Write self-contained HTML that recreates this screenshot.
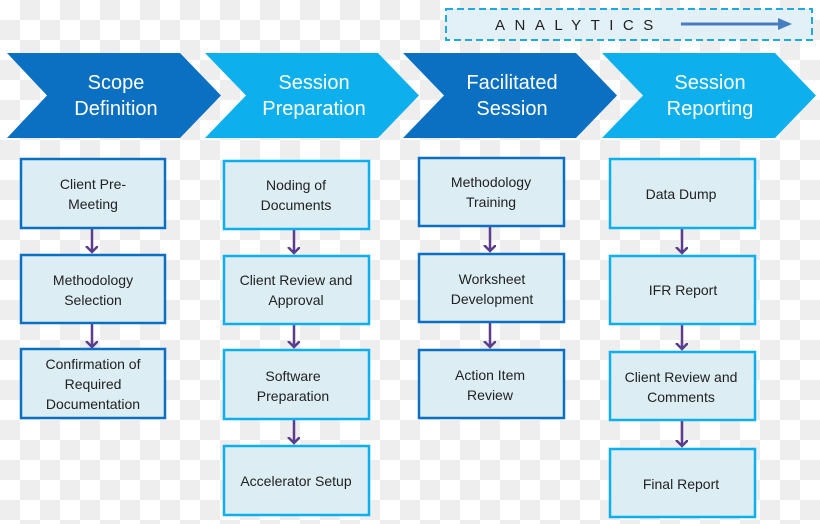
<!DOCTYPE html>
<html><head><meta charset="utf-8"><style>
html,body{margin:0;padding:0;}
body{width:820px;height:519px;overflow:hidden;
background-color:#fff;
background-image:linear-gradient(45deg,#eeeeee 25%,transparent 25%,transparent 75%,#eeeeee 75%),linear-gradient(45deg,#eeeeee 25%,transparent 25%,transparent 75%,#eeeeee 75%);
background-size:40px 40px;background-position:0 0,20px 20px;}
text{font-family:"Liberation Sans",sans-serif;}
</style></head><body>
<svg width="820" height="519" viewBox="0 0 820 519" xmlns="http://www.w3.org/2000/svg">
<defs>
<marker id="ah" markerWidth="14" markerHeight="14" refX="6" refY="6" orient="auto" markerUnits="userSpaceOnUse">
<path d="M0,0 L6,6 L0,12" fill="none" stroke="#5b3d8a" stroke-width="2.5"/></marker>
</defs>
<rect x="446" y="9" width="366" height="31" fill="#e2f1f8" stroke="#1fa9e0" stroke-width="2" stroke-dasharray="7,4"/>
<text x="495" y="30" font-size="15" letter-spacing="9.5" fill="#222">ANALYTICS</text>
<line x1="681" y1="24" x2="780" y2="24" stroke="#4a7cc0" stroke-width="3"/>
<path d="M778,18 L792,24 L778,30 Z" fill="#4a7cc0"/>
<g fill="#fff" font-size="20" text-anchor="middle">
<path d="M7,53 L180,53 L221,95.5 L180,138 L7,138 L47,95.5 Z" fill="#0b70c1"/>
<text x="116" y="89">Scope</text><text x="116" y="115">Definition</text>
<path d="M205,53 L378,53 L419,95.5 L378,138 L205,138 L246,95.5 Z" fill="#0db0ec"/>
<text x="314" y="89">Session</text><text x="314" y="115">Preparation</text>
<path d="M403,53 L576,53 L617,95.5 L576,138 L403,138 L444,95.5 Z" fill="#0b70c1"/>
<text x="512" y="89">Facilitated</text><text x="512" y="115">Session</text>
<path d="M602,53 L775,53 L816,95.5 L775,138 L602,138 L643,95.5 Z" fill="#0db0ec"/>
<text x="710" y="89">Session</text><text x="710" y="115">Reporting</text>
</g>
<g stroke="#5b3d8a" stroke-width="2.5" marker-end="url(#ah)">
<line x1="92" y1="229" x2="92" y2="252"/><line x1="92" y1="324" x2="92" y2="347"/>
<line x1="294" y1="230" x2="294" y2="253"/><line x1="294" y1="325" x2="294" y2="347"/><line x1="294" y1="420" x2="294" y2="443"/>
<line x1="490" y1="227" x2="490" y2="251"/><line x1="490" y1="323" x2="490" y2="347"/>
<line x1="682" y1="229" x2="682" y2="253"/><line x1="682" y1="325" x2="682" y2="349"/><line x1="682" y1="421" x2="682" y2="446"/>
</g>
<g fill="#dcedf4" stroke-width="2.5">
<g stroke="#0b70c1">
<rect x="21" y="159" width="144" height="69"/><rect x="21" y="255" width="144" height="68"/><rect x="21" y="349" width="144" height="69"/>
<rect x="419" y="158" width="145" height="68"/><rect x="419" y="254" width="145" height="68"/><rect x="419" y="350" width="145" height="68"/>
</g>
<g stroke="#0db0ec">
<rect x="224" y="161" width="145" height="68"/><rect x="224" y="256" width="145" height="68"/><rect x="224" y="350" width="145" height="69"/><rect x="224" y="446" width="145" height="69"/>
<rect x="610" y="159" width="145" height="69"/><rect x="610" y="256" width="145" height="68"/><rect x="610" y="352" width="145" height="68"/><rect x="610" y="449" width="145" height="68"/>
</g>
</g>
<g fill="#222" font-size="14" text-anchor="middle">
<text x="93" y="189">Client Pre-</text><text x="93" y="209">Meeting</text>
<text x="93" y="285">Methodology</text><text x="93" y="305">Selection</text>
<text x="93" y="369">Confirmation of</text><text x="93" y="389">Required</text><text x="93" y="409">Documentation</text>
<text x="296" y="190">Noding of</text><text x="296" y="210">Documents</text>
<text x="296" y="285">Client Review and</text><text x="296" y="305">Approval</text>
<text x="293" y="381">Software</text><text x="293" y="401">Preparation</text>
<text x="296" y="486">Accelerator Setup</text>
<text x="491" y="187">Methodology</text><text x="491" y="207">Training</text>
<text x="492" y="284">Worksheet</text><text x="492" y="304">Development</text>
<text x="490" y="380">Action Item</text><text x="490" y="400">Review</text>
<text x="681" y="199">Data Dump</text>
<text x="683" y="295">IFR Report</text>
<text x="681" y="382">Client Review and</text><text x="681" y="402">Comments</text>
<text x="681" y="489">Final Report</text>
</g>
</svg>
</body></html>
